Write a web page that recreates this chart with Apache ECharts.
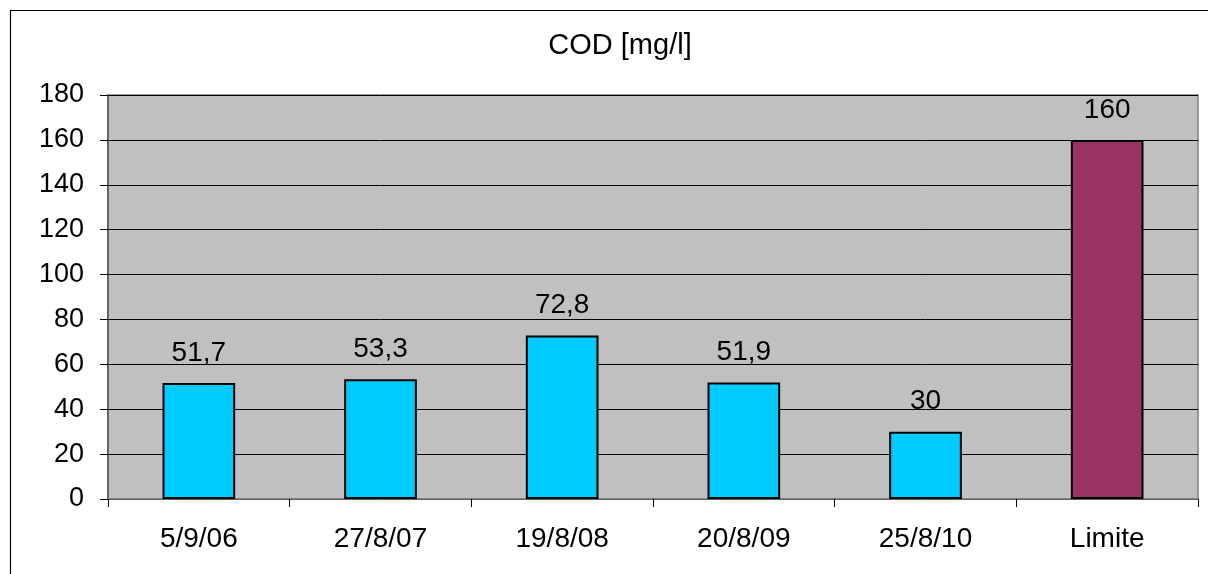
<!DOCTYPE html>
<html><head><meta charset="utf-8">
<script src="https://cdn.jsdelivr.net/npm/echarts@6/dist/echarts.min.js"></script>
<style>html,body{margin:0;padding:0;background:#fff}#c{width:1208px;height:574px}</style>
</head><body><div id="c"></div>
<script>
const categories = ['5/9/06','27/8/07','19/8/08','20/8/09','25/8/10','Limite'];
const values = [51.7, 53.3, 72.8, 51.9, 30, 160];
const barColors = ['#00CCFF','#00CCFF','#00CCFF','#00CCFF','#00CCFF','#993366'];
const yTicks = {min:0, max:180, interval:20};
const titleText = 'COD [mg/l]';

const chart = echarts.init(document.getElementById('c'), null, {renderer:'canvas'});
const F = 'Liberation Sans, Arial, sans-serif';
chart.setOption({
  animation:false,
  graphic:[
    {type:'rect', shape:{x:10.5,y:10.5,width:1300,height:700}, style:{fill:'none',stroke:'#000',lineWidth:1.2}, z:-10},
    {type:'text', x:620, y:46, style:{text:titleText, textAlign:'center', textVerticalAlign:'middle',
      font:'normal 29px Liberation Sans, Arial, sans-serif', fill:'#000'}}
  ],
  grid:{left:108, right:10, top:95, bottom:75, show:true, backgroundColor:'#C0C0C0', borderColor:'#808080', borderWidth:1.5},
  xAxis:{type:'category', data:categories,
    axisLine:{show:true, lineStyle:{color:'#808080', width:1.5}},
    axisTick:{show:true, alignWithLabel:false, length:8, lineStyle:{color:'#000'}},
    axisLabel:{fontFamily:F, fontSize:28, color:'#000', margin:26}},
  yAxis:{type:'value', min:yTicks.min, max:yTicks.max, interval:yTicks.interval,
    axisLine:{show:true, lineStyle:{color:'#555', width:1.5}},
    axisTick:{show:true, length:8, lineStyle:{color:'#000'}},
    splitLine:{lineStyle:{color:'#000', width:1}},
    axisLabel:{fontFamily:F, fontSize:27, color:'#000', margin:24}},
  series:[{type:'bar', barWidth:'40%',
    data:values.map((v,i)=>({value:v, itemStyle:{color:barColors[i]}})),
    itemStyle:{borderColor:'#000', borderWidth:2},
    label:{show:true, position:'top', distance:16, fontFamily:F, fontSize:28, color:'#000',
      formatter:p=>String(p.value).replace('.',',')}}]
});
</script></body></html>
